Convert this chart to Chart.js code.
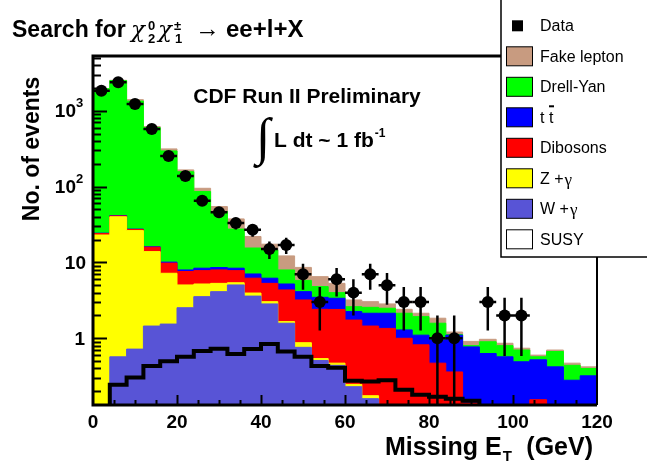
<!DOCTYPE html>
<html>
<head>
<meta charset="utf-8">
<script src="https://cdn.jsdelivr.net/npm/chart.js@4.4.0/dist/chart.umd.min.js"></script>
<style>
  html, body { margin: 0; padding: 0; background: #fff; }
</style>
</head>
<body>
<canvas id="c" width="647" height="464"></canvas>
<script>
'use strict';

// 4 GeV bins, 0..120
const edges = [0, 4, 8, 12, 16, 20, 24, 28, 32, 36, 40, 44, 48, 52, 56, 60, 64, 68, 72, 76, 80, 84, 88, 92, 96, 100, 104, 108, 112, 116, 120];
const centers = [2, 6, 10, 14, 18, 22, 26, 30, 34, 38, 42, 46, 50, 54, 58, 62, 66, 70, 74, 78, 82, 86, 90, 94, 98, 102, 106, 110, 114, 118];

const dataCounts = [1830, 2370, 1225, 574, 253, 138, 65, 46, 33, 27, 15, 17, 7, 3, 6, 4, 7, 5, 3, 3, 1, 1, 0, 3, 2, 2, 0, 0, 0, 0];

// stacked backgrounds, cumulative top of each layer
const fakeTop = [1960, 2520, 1400, 620, 314, 166, 95, 54.5, 37.5, 22, 17.4, 12.2, 8.6, 6.5, 5.3, 3.2, 3.04, 2.84, 2.41, 2.14, 1.84, 1.21, 0.91, 0.97, 0.86, 0.74, 0.60, 0.70, 0.47, 0.42];
const dyTop = [1950, 2500, 1340, 600, 295, 157, 86, 47, 27.5, 15.5, 14.6, 7.96, 5.8, 4.8, 4.0, 2.61, 2.56, 2.49, 2.14, 1.93, 1.58, 1.12, 0.80, 0.90, 0.80, 0.70, 0.57, 0.67, 0.44, 0.40];
const ttTop = [24.3, 41.5, 27.5, 16.1, 10.1, 7.96, 8.4, 8.55, 8.4, 7.05, 6.2, 5.2, 4.12, 3.47, 3.37, 2.25, 2.14, 2.14, 1.29, 1.1, 0.95, 1.1, 0.77, 0.63, 0.57, 0.49, 0.52, 0.42, 0.28, 0.32];
const dibTop = [24, 41, 27.2, 15.9, 9.8, 7.6, 7.8, 7.96, 7.8, 6.2, 5.3, 4.34, 3.2, 2.41, 2.4, 1.74, 1.45, 1.35, 1.0, 0.82, 0.47, 0.36, 0.14, 0.12, 0.12, 0.12, 0.155, 0.12, 0.12, 0.12];
const zgTop = [23, 40, 26.3, 13.9, 7.2, 5.05, 5.2, 5.3, 5.4, 3.95, 3.04, 1.66, 0.875, 0.54, 0.47, 0.247, 0.175, 0.1, 0.1, 0.08, 0.08, 0.06, 0.06, 0.05, 0.05, 0.05, 0.05, 0.05, 0.05, 0.05];
const wgTop = [0.1, 0.57, 0.72, 1.45, 1.54, 2.53, 3.54, 4.12, 5.05, 3.6, 2.84, 1.58, 0.76, 0.51, 0.44, 0.23, 0.16, 0.1, 0.1, 0.08, 0.08, 0.06, 0.06, 0.05, 0.05, 0.05, 0.05, 0.05, 0.05, 0.05];
const susy = [0.1, 0.244, 0.305, 0.43, 0.50, 0.57, 0.68, 0.73, 0.62, 0.72, 0.84, 0.67, 0.57, 0.43, 0.41, 0.276, 0.27, 0.28, 0.21, 0.18, 0.17, 0.16, 0.15, 0.1, 0.08, 0.08, 0.06, 0.06, 0.05, 0.05];

const yMin = 0.132;
const yMax = 5270;
const xTicks = [0, 20, 40, 60, 80, 100, 120];

const colors = {
  fake: '#c89b80',
  dy: '#00ff00',
  tt: '#0000ff',
  dib: '#ff0000',
  zg: '#ffff00',
  wg: '#5854d6'
};

const FONT = '"Liberation Sans", Arial, Helvetica, sans-serif';
const SERIF = '"Liberation Serif", "Times New Roman", serif';
const GREEK = '"DejaVu Serif", "Liberation Serif", serif';

const hist = vals => {
  const pts = vals.map((v, i) => ({ x: edges[i], y: v }));
  pts.push({ x: edges[vals.length], y: vals[vals.length - 1] });
  return pts;
};

const layer = (label, vals, color, order) => ({
  label,
  data: hist(vals),
  stepped: true,
  fill: 'start',
  backgroundColor: color,
  borderColor: color,
  borderWidth: 1,
  pointRadius: 0,
  order
});

const points = [];
dataCounts.forEach((n, i) => { if (n > 0) points.push({ x: centers[i], y: n }); });

const text = (ctx, s, x, y, font, align) => {
  ctx.font = font;
  ctx.textAlign = align || 'left';
  ctx.fillText(s, x, y);
  return ctx.measureText(s).width;
};

const decor = {
  id: 'decor',
  afterDatasetsDraw(chart) {
    const { ctx, chartArea: a, scales: { x, y } } = chart;
    // error bars of the data
    ctx.save();
    ctx.beginPath();
    ctx.rect(a.left, a.top, a.right - a.left, a.bottom - a.top);
    ctx.clip();
    ctx.strokeStyle = '#000';
    ctx.lineWidth = 2.5;
    dataCounts.forEach((n, i) => {
      if (!n) return;
      const e = Math.sqrt(n);
      const cx = x.getPixelForValue(centers[i]);
      const py = y.getPixelForValue(n);
      const lo = n - e > 0 ? y.getPixelForValue(n - e) : a.bottom + 5;
      ctx.beginPath();
      ctx.moveTo(cx, lo);
      ctx.lineTo(cx, y.getPixelForValue(n + e));
      ctx.moveTo(x.getPixelForValue(edges[i]), py);
      ctx.lineTo(x.getPixelForValue(edges[i + 1]), py);
      ctx.stroke();
    });
    ctx.restore();
  },
  afterDraw(chart) {
    const { ctx, chartArea: a, scales: { x, y } } = chart;
    ctx.save();
    ctx.fillStyle = '#000';
    ctx.strokeStyle = '#000';
    ctx.textBaseline = 'alphabetic';

    // ticks inside the frame
    ctx.lineWidth = 2;
    ctx.beginPath();
    for (let d = -1; d <= 3; d++) {
      for (let m = 1; m <= 9; m++) {
        const v = m * Math.pow(10, d);
        if (v < yMin || v > yMax) continue;
        const py = Math.round(y.getPixelForValue(v)) + 0.5;
        ctx.moveTo(a.left, py);
        ctx.lineTo(a.left + (m === 1 ? 14 : 8), py);
      }
    }
    for (let v = 5; v < 120; v += 5) {
      const px = Math.round(x.getPixelForValue(v)) + 0.5;
      ctx.moveTo(px, a.bottom);
      ctx.lineTo(px, a.bottom - (v % 20 === 0 ? 10 : 5));
    }
    ctx.stroke();

    // frame
    ctx.lineWidth = 3;
    ctx.beginPath();
    ctx.moveTo(a.right, a.top);
    ctx.lineTo(a.left, a.top);
    ctx.lineTo(a.left, a.bottom);
    ctx.lineTo(a.right, a.bottom);
    ctx.stroke();
    ctx.lineWidth = 2;
    ctx.beginPath();
    ctx.moveTo(a.right, a.top);
    ctx.lineTo(a.right, a.bottom);
    ctx.stroke();

    // tick labels
    xTicks.forEach(v => text(ctx, String(v), x.getPixelForValue(v), 428, 'bold 19px ' + FONT, 'center'));
    ctx.textBaseline = 'middle';
    text(ctx, '1', 85, y.getPixelForValue(1) + 1, 'bold 19px ' + FONT, 'right');
    text(ctx, '10', 86, y.getPixelForValue(10) + 1, 'bold 19px ' + FONT, 'right');
    [[100, '2'], [1000, '3']].forEach(([v, e]) => {
      const py = y.getPixelForValue(v);
      text(ctx, '10', 76, py + 1, 'bold 19px ' + FONT, 'right');
      text(ctx, e, 76, py - 7, 'bold 13px ' + FONT, 'left');
    });

    // axis titles
    ctx.textBaseline = 'alphabetic';
    ctx.save();
    ctx.translate(39, 149);
    ctx.rotate(-Math.PI / 2);
    text(ctx, 'No. of events', 0, 0, 'bold 23px ' + FONT, 'center');
    ctx.restore();

    let w = text(ctx, 'Missing E', 385, 455, 'bold 25px ' + FONT);
    text(ctx, 'T', 385 + w + 1, 461, 'bold 15px ' + FONT);
    text(ctx, '(GeV)', 593, 455, 'bold 25px ' + FONT, 'right');

    // title
    text(ctx, 'Search for', 12, 37, 'bold 23px ' + FONT);
    text(ctx, 'χ', 131, 37, 'italic 23px ' + GREEK);
    text(ctx, '0', 148, 30, 'bold 13px ' + FONT);
    text(ctx, '2', 148, 43, 'bold 13px ' + FONT);
    text(ctx, 'χ', 158, 37, 'italic 23px ' + GREEK);
    text(ctx, '±', 174, 30, 'bold 13px ' + FONT);
    text(ctx, '1', 175, 43, 'bold 13px ' + FONT);
    text(ctx, '→', 195, 37, '25px ' + SERIF);
    text(ctx, 'ee+l+X', 226, 37, 'bold 24px ' + FONT);

    // annotations
    text(ctx, 'CDF Run II Preliminary', 307, 103, 'bold 21px ' + FONT, 'center');
    text(ctx, '∫', 256, 154, '52px ' + SERIF);
    w = text(ctx, 'L dt ~ 1 fb', 274, 147, 'bold 21px ' + FONT);
    text(ctx, '-1', 274 + w + 1, 137, 'bold 12px ' + FONT);

    // legend
    ctx.fillStyle = '#fff';
    ctx.fillRect(501, -5, 160, 262);
    ctx.lineWidth = 1.5;
    ctx.strokeRect(501, -5, 160, 262);
    const entries = [
      ['Data', null],
      ['Fake lepton', colors.fake],
      ['Drell-Yan', colors.dy],
      ['t t', colors.tt],
      ['Dibosons', colors.dib],
      ['Z +', colors.zg],
      ['W +', colors.wg],
      ['SUSY', '#fff']
    ];
    ctx.textBaseline = 'middle';
    entries.forEach(([label, col], k) => {
      const cy = 25.8 + 30.5 * k;
      if (col === null) {
        ctx.fillStyle = '#000';
        ctx.fillRect(512, cy - 5.5, 11, 11);
      } else {
        ctx.fillStyle = col;
        ctx.fillRect(506, cy - 9.5, 26, 19);
        ctx.lineWidth = 1;
        ctx.strokeRect(506.5, cy - 9.5, 26, 19);
      }
      ctx.fillStyle = '#000';
      const tw = text(ctx, label, 540, cy + 1, '16px ' + FONT);
      if (label === 't t') {
        ctx.fillRect(549, cy - 12, 5, 2);
      }
      if (label === 'Z +' || label === 'W +') {
        text(ctx, 'γ', 540 + tw + 1, cy + 2, '17px ' + SERIF);
      }
    });
    ctx.restore();
  }
};

new Chart(document.getElementById('c'), {
  type: 'line',
  data: {
    datasets: [
      {
        type: 'scatter',
        label: 'Data',
        data: points,
        pointRadius: 6,
        pointBackgroundColor: '#000',
        pointBorderWidth: 0,
        showLine: false,
        order: 0
      },
      {
        label: 'SUSY',
        data: hist(susy),
        stepped: true,
        fill: false,
        borderColor: '#000',
        borderWidth: 4,
        pointRadius: 0,
        clip: 0,
        order: 1
      },
      layer('W +γ', wgTop, colors.wg, 2),
      layer('Z +γ', zgTop, colors.zg, 3),
      layer('Dibosons', dibTop, colors.dib, 4),
      layer('t t', ttTop, colors.tt, 5),
      layer('Drell-Yan', dyTop, colors.dy, 6),
      layer('Fake lepton', fakeTop, colors.fake, 7)
    ]
  },
  options: {
    responsive: false,
    animation: false,
    devicePixelRatio: 1,
    layout: { padding: { left: 93, top: 56, right: 50, bottom: 59 } },
    plugins: { legend: { display: false }, tooltip: { enabled: false } },
    scales: {
      x: { type: 'linear', min: 0, max: 120, display: false },
      y: { type: 'logarithmic', min: yMin, max: yMax, display: false }
    }
  },
  plugins: [decor]
});
</script>
</body>
</html>
